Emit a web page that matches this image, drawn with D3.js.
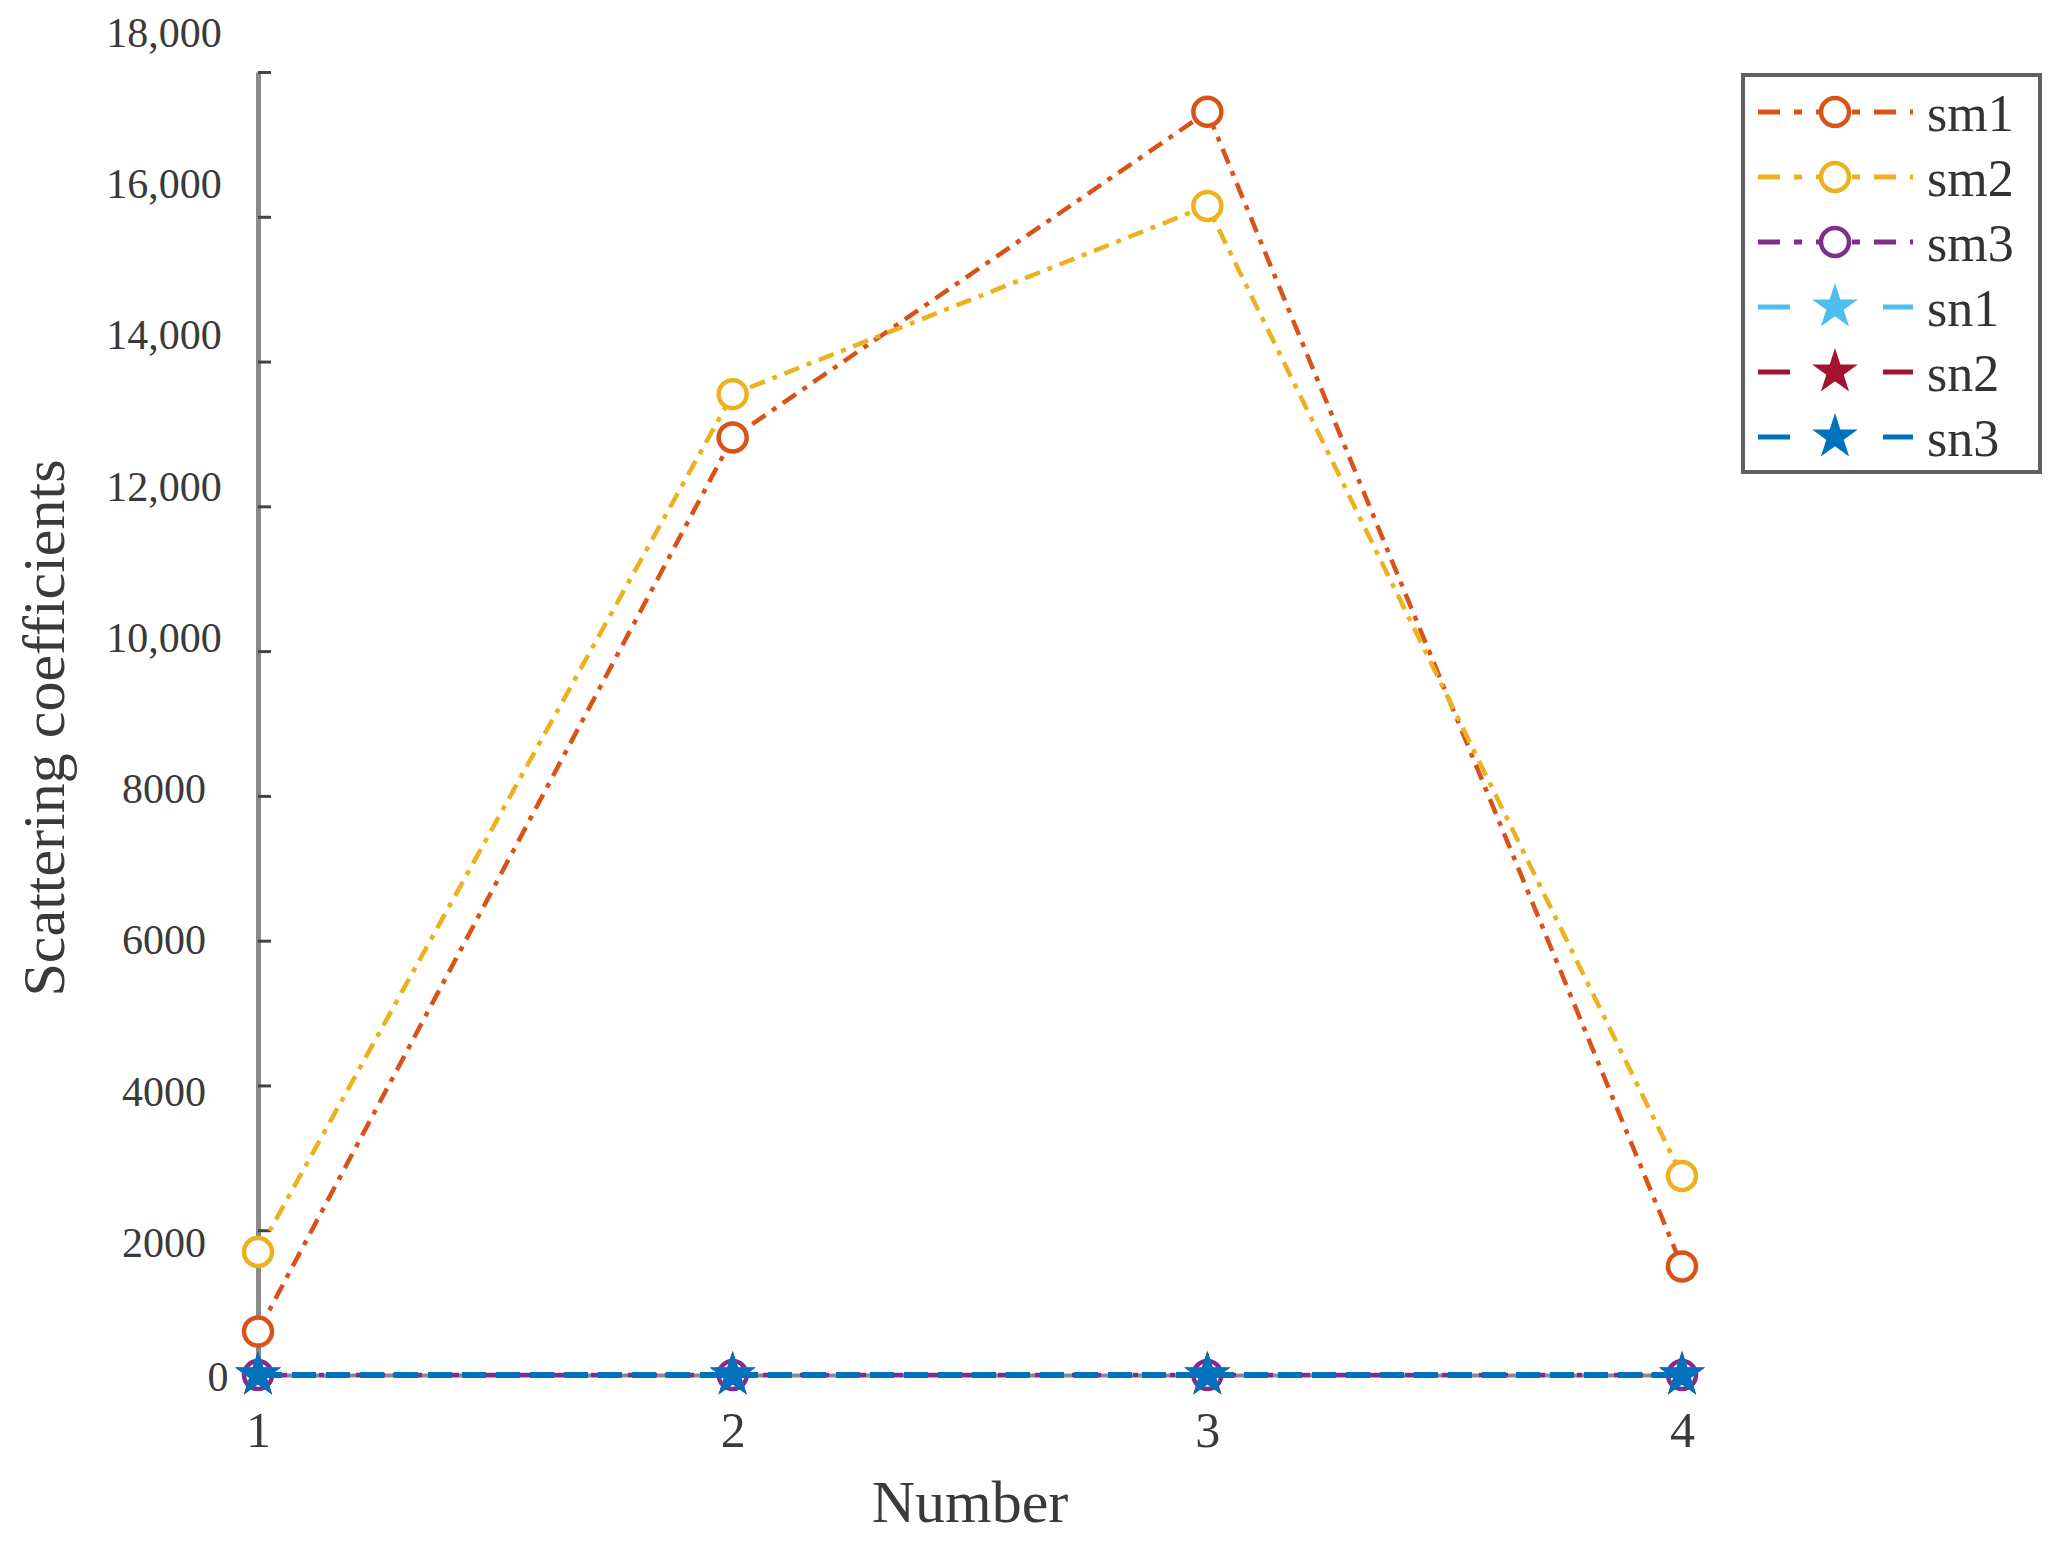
<!DOCTYPE html>
<html>
<head>
<meta charset="utf-8">
<script src="https://cdn.jsdelivr.net/npm/d3@7"></script>
<style>
  html, body { margin: 0; padding: 0; background: #ffffff; }
  svg { display: block; }
</style>
</head>
<body>
<div id="chart"></div>
<script>
// ---------------- data ----------------
const categories = [1, 2, 3, 4];
const seriesNames = ["sm1", "sm2", "sm3", "sn1", "sn2", "sn3"];
const sm1 = [600, 12950, 17450, 1500];
const sm2 = [1700, 13550, 16150, 2750];
const sm3 = [0, 0, 0, 0];
const sn1 = [0, 0, 0, 0];
const sn2 = [0, 0, 0, 0];
const sn3 = [0, 0, 0, 0];
const yTickValues = [0, 2000, 4000, 6000, 8000, 10000, 12000, 14000, 16000, 18000];
const xTickValues = [1, 2, 3, 4];
const xTitle = "Number";
const yTitle = "Scattering coefficients";

// ---------------- styles ----------------
const seriesValues = [sm1, sm2, sm3, sn1, sn2, sn3];
const colors = ["#D95319", "#EDB120", "#7E2F8E", "#4DBEEE", "#A2142F", "#0072BD"];
const markerTypes = ["circle", "circle", "circle", "star", "star", "star"];
const dashes = ["16,8,5,8", "16,8,5,8", "16,8,5,8", "24,10", "24,10", "24,10"];

const W = 2062, H = 1546;
const svg = d3.select("#chart").append("svg")
  .attr("width", W).attr("height", H)
  .style("font-family", "'Liberation Serif', 'DejaVu Serif', serif");

const x = d3.scaleLinear().domain([1, 4]).range([258, 1682]);
const y = d3.scaleLinear().domain([0, 18000]).range([1375, 72]);
// tick labels in the source are placed slightly off the tick marks
const yLabel = d3.scaleLinear().domain([0, 2000, 18000]).range([1377, 1243, 33]);

const fmtY = d => d >= 10000 ? d3.format(",")(d) : d3.format("d")(d);

// x axis
const xAxis = svg.append("g")
  .attr("transform", `translate(0,${y(0)})`)
  .call(d3.axisBottom(x).tickValues(xTickValues).tickFormat(d3.format("d"))
    .tickSizeInner(-12).tickSizeOuter(0).tickPadding(36));
xAxis.select(".domain").attr("stroke", "#8a8a8a").attr("stroke-width", 4);
xAxis.selectAll(".tick line").attr("stroke", "#555").attr("stroke-width", 3);
xAxis.selectAll(".tick text").attr("fill", "#3a3a3a").style("font-size", "50px")
  .style("font-family", "'Liberation Serif', serif");

// y axis (line + ticks)
const yAxis = svg.append("g")
  .attr("transform", `translate(${x(1)},0)`)
  .call(d3.axisLeft(y).tickValues(yTickValues).tickFormat("")
    .tickSizeInner(-13).tickSizeOuter(0));
yAxis.select(".domain").attr("stroke", "#8a8a8a").attr("stroke-width", 5);
yAxis.selectAll(".tick line").attr("stroke", "#444").attr("stroke-width", 3);

// y axis labels
const yLab = svg.append("g")
  .attr("transform", `translate(${x(1)},0)`)
  .call(d3.axisLeft(yLabel).tickValues(yTickValues).tickFormat(fmtY).tickSize(0));
yLab.select(".domain").remove();
yLab.selectAll(".tick text")
  .attr("fill", "#3a3a3a")
  .attr("text-anchor", "middle")
  .attr("x", d => d === 0 ? -40 : -94)
  .style("font-size", "42px")
  .style("font-family", "'Liberation Serif', serif");

// titles
svg.append("text")
  .attr("x", 970).attr("y", 1522)
  .attr("text-anchor", "middle")
  .attr("fill", "#3a3a3a")
  .style("font-size", "60px")
  .text(xTitle);
svg.append("text")
  .attr("transform", `translate(64,728) rotate(-90)`)
  .attr("text-anchor", "middle")
  .attr("fill", "#3a3a3a")
  .style("font-size", "60px")
  .text(yTitle);

// ---------------- series ----------------
const line = d3.line().x((d, i) => x(categories[i])).y(d => y(d));
const star = d3.symbol().type(d3.symbolStar).size(450);

function drawMarker(g, type, color, cx, cy) {
  if (type === "circle") {
    g.append("circle").attr("cx", cx).attr("cy", cy).attr("r", 14)
      .attr("fill", "#ffffff").attr("stroke", color).attr("stroke-width", 4.5);
  } else {
    g.append("path").attr("d", star())
      .attr("transform", `translate(${cx},${cy})`)
      .attr("fill", color).attr("stroke", color).attr("stroke-width", 2.5)
      .attr("stroke-linejoin", "miter");
  }
}

seriesValues.forEach((vals, s) => {
  const g = svg.append("g").attr("class", "series " + seriesNames[s]);
  g.append("path").datum(vals)
    .attr("d", line)
    .attr("fill", "none")
    .attr("stroke", colors[s])
    .attr("stroke-width", s >= 3 ? 6 : 4.5)
    .attr("stroke-dasharray", dashes[s]);
  vals.forEach((v, i) => drawMarker(g, markerTypes[s], colors[s], x(categories[i]), y(v)));
});

// ---------------- legend ----------------
const leg = svg.append("g").attr("class", "legend");
leg.append("rect")
  .attr("x", 1743).attr("y", 75).attr("width", 297).attr("height", 397)
  .attr("fill", "#ffffff").attr("stroke", "#606060").attr("stroke-width", 4);

const legendDash = ["22,14,8,14", "22,14,8,14", "22,14,8,14", "32,93", "32,93", "32,93"];
seriesNames.forEach((name, s) => {
  const cy = 112 + s * 65;
  const g = leg.append("g");
  g.append("line")
    .attr("x1", 1758).attr("x2", 1913).attr("y1", cy).attr("y2", cy)
    .attr("stroke", colors[s]).attr("stroke-width", 5)
    .attr("stroke-dasharray", legendDash[s]);
  drawMarker(g, markerTypes[s], colors[s], 1835, cy);
  g.append("text")
    .attr("x", 1927).attr("y", cy + 19)
    .attr("fill", "#333")
    .style("font-size", "52px")
    .text(name);
});
</script>
</body>
</html>
